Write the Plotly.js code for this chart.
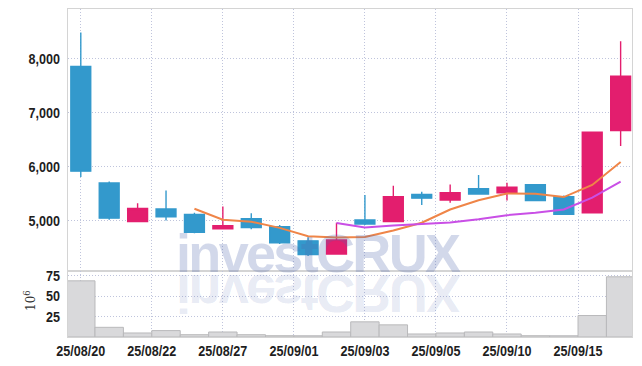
<!DOCTYPE html>
<html>
<head>
<meta charset="utf-8">
<script src="https://cdn.plot.ly/plotly-3.0.1.min.js"></script>
<style>
  html, body { margin: 0; padding: 0; background: #ffffff; }
  #wrap { position: relative; width: 642px; height: 366px; }
  #chart { width: 642px; height: 366px; }
  #wm { position: absolute; left: 0; top: 0; pointer-events: none; }
</style>
</head>
<body>
<div id="wrap">
  <div id="chart"></div>
  <svg id="wm" width="642" height="366" xmlns="http://www.w3.org/2000/svg">
    <text x="176" y="271.5" font-family="Liberation Sans, Arial, sans-serif" font-weight="bold" font-size="54" textLength="285" lengthAdjust="spacing" fill="rgb(80,105,175)" fill-opacity="0.26">investCRUX</text>
    <text x="176" y="271.5" transform="translate(0,546.5) scale(1,-1)" font-family="Liberation Sans, Arial, sans-serif" font-weight="bold" font-size="54" textLength="285" lengthAdjust="spacing" fill="rgb(80,105,175)" fill-opacity="0.14">investCRUX</text>
  </svg>
</div>
<script>
// ---- data ----
const dates = ['25/08/20','25/08/21','25/08/22','25/08/25','25/08/26','25/08/27','25/08/28','25/08/29',
               '25/09/01','25/09/02','25/09/03','25/09/04','25/09/05','25/09/08','25/09/09','25/09/10',
               '25/09/11','25/09/12','25/09/15','25/09/16'];
const openP  = [7850, 5690, 4975, 5210, 5110, 4845, 5030, 4880, 4620, 4375, 5005, 4975, 5480, 5375, 5585, 5510, 5660, 5435, 5140, 6660];
const highP  = [8480, 5720, 5315, 5550, 5140, 5255, 5130, 4915, 4685, 4955, 5470, 5640, 5530, 5665, 5840, 5695, 5665, 5460, 6635, 8315];
const lowP   = [5800, 5010, 4965, 4995, 4760, 4840, 4835, 4560, 4340, 4370, 4915, 4965, 5285, 5325, 5480, 5365, 5360, 5100, 5135, 6375];
const closeP = [5910, 5040, 5220, 5065, 4780, 4900, 4865, 4585, 4365, 4635, 4930, 5435, 5410, 5510, 5485, 5615, 5365, 5110, 6630, 7670];
const ma5    = [null, null, null, null, 5215, 5010, 4975, 4860, 4705, 4680, 4690, 4810, 4955, 5200, 5370, 5495, 5490, 5430, 5655, 6080];
const ma10   = [null, null, null, null, null, null, null, null, null, 4950, 4865, 4905, 4935, 4960, 5020, 5095, 5140, 5200, 5420, 5715];
const volumeM = [68.5, 11.8, 4.9, 7.8, 2.8, 6.1, 2.8, 1.6, 1.5, 6.1, 18.5, 14.8, 3.7, 4.9, 6.1, 3.7, 1.6, 1.5, 26.2, 73.4]; // millions
const priceTicks = [5000, 6000, 7000, 8000];
const volumeTicks = [25, 50, 75];
const volumeUnit = '10<sup>6</sup>';

// ---- build ----
const xIdx = dates.map((d, i) => i);
function roundHalfEven(v) {
  const f = Math.floor(v), r = v - f;
  if (r > 0.5) return f + 1;
  if (r < 0.5) return f;
  return (f % 2 === 0) ? f : f + 1;
}
const tickStep = 2.5;
const tickVals = [];
for (let v = 0; v <= dates.length - 1; v += tickStep) tickVals.push(v);
const tickText = tickVals.map(v => dates[roundHalfEven(v)]);

const BLUE = '#3399cc';
const PINK = '#e31e6e';
const gridC = '#bfc4dc';
const lineC = '#d4d4d4';
const tickFont = { family: 'Liberation Sans, Arial, sans-serif', size: 15, color: '#1e1e1e', weight: 'bold' };

const traces = [
  {
    type: 'candlestick', x: xIdx, open: openP, high: highP, low: lowP, close: closeP,
    xaxis: 'x', yaxis: 'y',
    increasing: { line: { color: PINK, width: 1.4 }, fillcolor: PINK },
    decreasing: { line: { color: BLUE, width: 1.4 }, fillcolor: BLUE },
    whiskerwidth: 0, showlegend: false, hoverinfo: 'skip'
  },
  {
    type: 'scatter', mode: 'lines', x: xIdx, y: ma5, xaxis: 'x', yaxis: 'y',
    line: { color: '#ef8548', width: 2 }, showlegend: false, hoverinfo: 'skip'
  },
  {
    type: 'scatter', mode: 'lines', x: xIdx, y: ma10, xaxis: 'x', yaxis: 'y',
    line: { color: '#c94fe6', width: 2 }, showlegend: false, hoverinfo: 'skip'
  },
  {
    type: 'bar', x: xIdx, y: volumeM, xaxis: 'x', yaxis: 'y2', width: 1,
    marker: { color: '#d9d9db', line: { color: '#b9b9bb', width: 1 } },
    showlegend: false, hoverinfo: 'skip'
  }
];

const layout = {
  width: 642, height: 366,
  margin: { l: 68, r: 10, t: 9, b: 29, pad: 0 },
  paper_bgcolor: '#ffffff', plot_bgcolor: '#ffffff',
  showlegend: false,
  boxgap: 0.3, boxgroupgap: 0,
  xaxis: {
    type: 'linear', range: [-0.45, 19.4], anchor: 'y2',
    tickvals: tickVals, ticktext: tickText, tickfont: tickFont,
    showgrid: true, gridcolor: gridC, griddash: '1px,2px', gridwidth: 1,
    zeroline: false, showline: true, linecolor: lineC, linewidth: 1, mirror: 'all',
    ticks: '', rangeslider: { visible: false }, fixedrange: true
  },
  yaxis: {
    domain: [0.2, 1], range: [4054, 8913],
    tickvals: priceTicks, tickformat: ',d', tickfont: tickFont,
    showgrid: true, gridcolor: gridC, griddash: '1px,2px', gridwidth: 1,
    zeroline: false, showline: true, linecolor: lineC, linewidth: 1, mirror: true,
    ticks: '', ticklabelstandoff: 4
  },
  yaxis2: {
    domain: [0, 0.2], range: [0, 80],
    tickvals: volumeTicks, tickfont: tickFont,
    showgrid: true, gridcolor: gridC, griddash: '1px,2px', gridwidth: 1,
    zeroline: false, showline: true, linecolor: lineC, linewidth: 1, mirror: true,
    ticks: '', ticklabelstandoff: 4
  },
  annotations: [{
    text: volumeUnit, xref: 'paper', yref: 'paper',
    x: -38 / 564, y: 36 / 328, xanchor: 'center', yanchor: 'middle',
    textangle: -90, showarrow: false,
    font: { family: 'DejaVu Serif, serif', size: 12, color: '#333333' }
  }],
  bargap: 0
};

Plotly.newPlot('chart', traces, layout, { staticPlot: true, displayModeBar: false }).then(() => {
  // condense tick labels horizontally (reference uses a narrow face), scaling about each label's anchor
  const k = 0.84;
  document.querySelectorAll('#chart .xtick text, #chart .ytick text, #chart .y2tick text').forEach(t => {
    const b = t.getBBox();
    if (!(b.width > 0)) return;
    const anchor = t.getAttribute('text-anchor') || 'start';
    let ax = b.x;
    if (anchor === 'end') ax = b.x + b.width;
    else if (anchor === 'middle') ax = b.x + b.width / 2;
    const prev = t.getAttribute('transform') || '';
    t.setAttribute('transform', (prev + ' translate(' + ax.toFixed(2) + ',0) scale(' + k + ',1) translate(' + (-ax).toFixed(2) + ',0)').trim());
  });
});
</script>
</body>
</html>
